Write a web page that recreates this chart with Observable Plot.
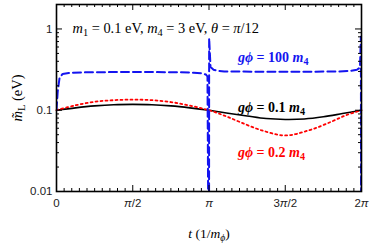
<!DOCTYPE html>
<html><head><meta charset="utf-8">
<script src="https://cdn.jsdelivr.net/npm/d3@7"></script>
<script src="https://cdn.jsdelivr.net/npm/@observablehq/plot@0.6"></script>
<style>body{margin:0;background:#fff} svg{display:block}</style>
</head><body><div id="chart"></div>
<script>
// time in units of pi (1/m_phi)
const tBlack = [0, 0.125, 0.25, 0.375, 0.5, 0.625, 0.75, 0.875, 1, 1.125, 1.25, 1.375, 1.5, 1.625, 1.75, 1.875, 2];
const mBlack = [0.1, 0.107, 0.113, 0.117, 0.118, 0.117, 0.113, 0.107, 0.1, 0.092, 0.085, 0.079, 0.077, 0.078, 0.083, 0.091, 0.1];

const tRed = [0, 0.125, 0.25, 0.375, 0.5, 0.625, 0.75, 0.875, 1, 1.1, 1.2, 1.34, 1.5, 1.66, 1.8, 1.9, 2];
const mRed = [0.1, 0.115, 0.127, 0.133, 0.135, 0.133, 0.126, 0.114, 0.1, 0.086, 0.072, 0.057, 0.049, 0.057, 0.072, 0.087, 0.1];

const tBlue = [0, 0.008, 0.02, 0.04, 0.08, 0.2, 0.4, 0.6, 0.8, 0.9, 0.95, 0.98, 0.99, 1.0, 1.001, 1.01, 1.03, 1.06, 1.1, 1.3, 1.5, 1.7, 1.85, 1.93, 1.97, 1.99, 1.996, 1.998, 2];
const mBlue = [0.1, 0.17, 0.25, 0.28, 0.288, 0.293, 0.295, 0.295, 0.293, 0.29, 0.285, 0.275, 0.26, 0.0001, 0.77, 0.34, 0.315, 0.305, 0.3, 0.298, 0.297, 0.298, 0.3, 0.305, 0.315, 0.335, 0.8, 0.0001, 0.1];

const xMajor = [0, 0.5, 1, 1.5, 2];
const xTickLabels = ["0", "π/2", "π", "3π/2", "2π"];
const yMajor = [0.01, 0.1, 1];
const yTickLabels = ["0.01", "0.1", "1"];

const titleText = "m1 = 0.1 eV, m4 = 3 eV, θ = π/12";
const seriesLabels = ["gϕ = 100 m4", "gϕ = 0.1 m4", "gϕ = 0.2 m4"];

const W = 374, H = 243, ML = 56, MR = 13, MT = 4, MB = 52;
const FW = W - ML - MR, FH = H - MT - MB;
const blue = "#1414f0", red = "#ff0000";
const serif = "'Liberation Serif', 'Times New Roman', serif";

const rows = (ts, ms) => ts.map((t, i) => ({t, m: ms[i]}));
const xMinor = d3.range(0, 2.0001, 0.05).filter(v => Math.abs(v * 2 - Math.round(v * 2)) > 1e-6);
const yMinor = [2,3,4,5,6,7,8,9].map(k => k * 0.01).concat([2,3,4,5,6,7,8,9].map(k => k * 0.1));

const plot = Plot.plot({
  width: W, height: H, marginLeft: ML, marginRight: MR, marginTop: MT, marginBottom: MB,
  style: {fontFamily: "'Liberation Sans', Arial, sans-serif", fontSize: "11.5px", color: "#222", background: "#fff"},
  x: {domain: [0, 2], label: null},
  y: {type: "log", domain: [0.01, 2], label: null},
  marks: [
    Plot.line(rows(tBlack, mBlack), {x: "t", y: "m", stroke: "#000", strokeWidth: 1.6, curve: "catmull-rom"}),
    Plot.line(rows(tRed, mRed), {x: "t", y: "m", stroke: red, strokeWidth: 1.8, strokeDasharray: "2,3", curve: "catmull-rom"}),
    Plot.line(rows(tBlue, mBlue), {x: "t", y: "m", stroke: blue, strokeWidth: 2, strokeDasharray: "8,4", clip: true}),
    // ticks (inward, on all four sides)
    Plot.tickY(yMajor, {y: d => d, insetRight: FW - 6, stroke: "#000"}),
    Plot.tickY(yMinor, {y: d => d, insetRight: FW - 3, stroke: "#000"}),
    Plot.tickY(yMajor, {y: d => d, insetLeft: FW - 6, stroke: "#000"}),
    Plot.tickY(yMinor, {y: d => d, insetLeft: FW - 3, stroke: "#000"}),
    Plot.tickX(xMajor, {x: d => d, insetTop: FH - 6, stroke: "#000"}),
    Plot.tickX(xMinor, {x: d => d, insetTop: FH - 3, stroke: "#000"}),
    Plot.tickX(xMajor, {x: d => d, insetBottom: FH - 6, stroke: "#000"}),
    Plot.tickX(xMinor, {x: d => d, insetBottom: FH - 3, stroke: "#000"}),
    Plot.frame({stroke: "#000", strokeWidth: 1.6}),
    Plot.axisX({ticks: xMajor, tickSize: 0, tickPadding: 7, tickFormat: d => xTickLabels[xMajor.indexOf(d)]}),
    Plot.axisY({ticks: yMajor, tickSize: 0, tickPadding: 4, tickFormat: d => yTickLabels[yMajor.indexOf(d)]}),
    Plot.text([titleText], {frameAnchor: "top-left", dx: 16, dy: 24, textAnchor: "start", lineAnchor: "middle", fontFamily: serif, fontSize: 14.4, fill: "#000"}),
    Plot.text([seriesLabels[0]], {x: () => 1.19, y: () => 0.44, textAnchor: "start", lineAnchor: "middle", fontFamily: serif, fontSize: 14, fontWeight: "bold", fill: blue}),
    Plot.text([seriesLabels[1]], {x: () => 1.19, y: () => 0.109, textAnchor: "start", lineAnchor: "middle", fontFamily: serif, fontSize: 14, fontWeight: "bold", fill: "#000"}),
    Plot.text([seriesLabels[2]], {x: () => 1.19, y: () => 0.0303, textAnchor: "start", lineAnchor: "middle", fontFamily: serif, fontSize: 14, fontWeight: "bold", fill: red}),
    Plot.text(["YLABEL"], {frameAnchor: "left", dx: -39, rotate: -90, textAnchor: "middle", lineAnchor: "middle", fontFamily: serif, fontSize: 14.5, fill: "#000"}),
    Plot.text(["XLABEL"], {frameAnchor: "bottom", dy: 42, textAnchor: "middle", lineAnchor: "middle", fontFamily: serif, fontSize: 13.5, fill: "#000"})
  ]
});
document.getElementById("chart").appendChild(plot);

// rich text (italic, subscripts)
const NS = "http://www.w3.org/2000/svg";
function rich(el, parts) {
  el.textContent = "";
  for (const p of parts) {
    const s = document.createElementNS(NS, "tspan");
    s.textContent = p[0];
    const f = p[1] || "";
    if (f.includes("i")) s.setAttribute("font-style", "italic");
    if (f.includes("s")) { s.setAttribute("baseline-shift", "-25%"); s.setAttribute("font-size", "72%"); }
    el.appendChild(s);
  }
}
const texts = Array.from(plot.querySelectorAll("text"));
for (const el of texts) {
  const c = el.textContent;
  if (c === titleText) rich(el, [["m","i"],["1","s"],[" = 0.1 eV, "],["m","i"],["4","s"],[" = 3 eV, "],["θ","i"],[" = "],["π","i"],["/12"]]);
  else if (seriesLabels.includes(c)) rich(el, [["gϕ","i"],[c.slice(2, c.length - 2) ],["m","i"],["4","s"]]);
  else if (c === "YLABEL") rich(el, [["m̃","i"],["L","s"],[" (eV)"]]);
  else if (c === "XLABEL") rich(el, [["t","i"],[" (1/"],["m","i"],["ϕ","is"],[")"]]);
  else if (c.includes("π")) {
    const i = c.indexOf("π");
    const parts = [];
    if (i > 0) parts.push([c.slice(0, i)]);
    parts.push(["π","i"]);
    if (i < c.length - 1) parts.push([c.slice(i + 1)]);
    rich(el, parts);
  }
}
</script>
</body></html>
